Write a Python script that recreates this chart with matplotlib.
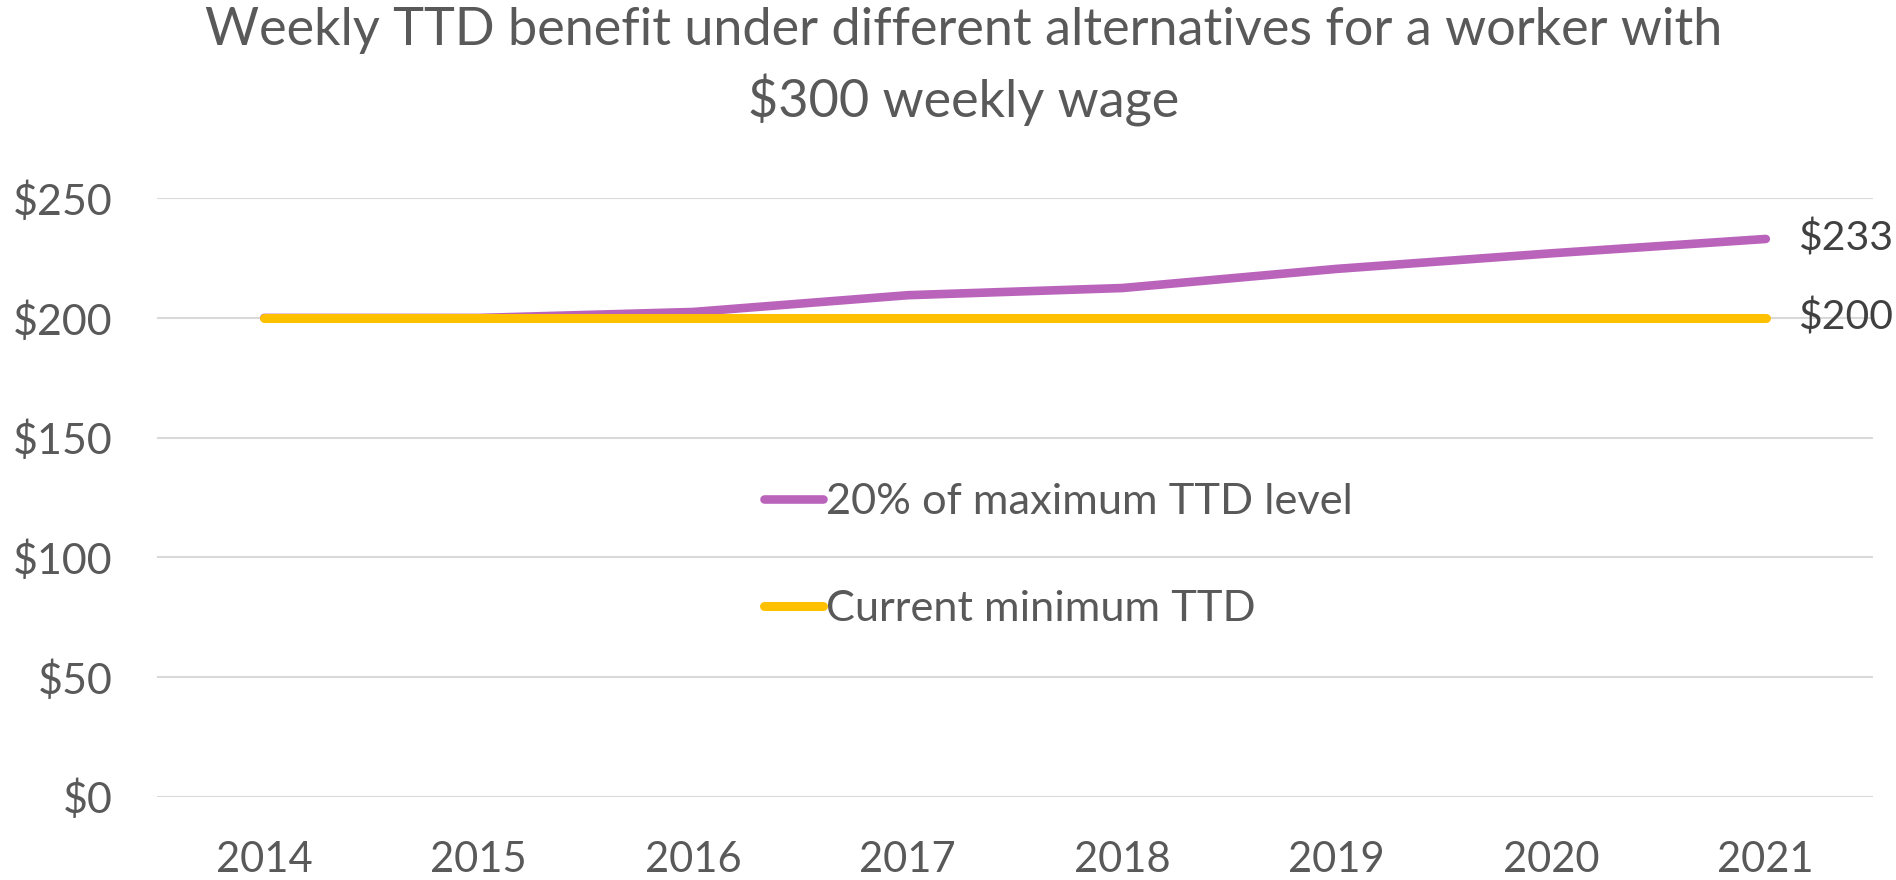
import matplotlib.pyplot as plt

years = ["2014", "2015", "2016", "2017", "2018", "2019", "2020", "2021"]
pct_max_ttd = [200, 200, 202.5, 209.5, 212.5, 220.5, 227, 233]
current_min = [200, 200, 200, 200, 200, 200, 200, 200]
y_ticks = [0, 50, 100, 150, 200, 250]

plt.rcParams['font.family'] = ['Lato', 'DejaVu Sans']
grey = "#595959"

fig = plt.figure(figsize=(18.96, 8.8), dpi=100)
ax = fig.add_axes([0.0828, 0.0947, 0.9051, 0.680])

x = range(len(years))
ax.plot(x, pct_max_ttd, color="#B963BB", lw=6.2, solid_capstyle="round",
        label="20% of maximum TTD level", zorder=3)
ax.plot(x, current_min, color="#FFC000", lw=6.5, solid_capstyle="round",
        label="Current minimum TTD", zorder=4)

# end-of-line value labels
for series in (pct_max_ttd, current_min):
    ax.annotate(f"${series[-1]:.0f}", (len(years) - 1, series[-1]),
                xytext=(23, 0), textcoords="offset points",
                va="center", ha="left", fontsize=29.5, color="#404040",
                annotation_clip=False)

ax.set_xlim(-0.5, len(years) - 0.5)
ax.set_ylim(0, 250)
ax.set_xticks(list(x))
ax.set_xticklabels(years)
ax.set_yticks(y_ticks)
ax.set_yticklabels([f"${v}" for v in y_ticks])
ax.tick_params(axis="both", length=0, labelsize=30, labelcolor=grey)
ax.tick_params(axis="y", labelsize=31)
ax.tick_params(axis="x", pad=32)
ax.tick_params(axis="y", pad=32)
ax.grid(axis="y", color="#D9D9D9", lw=1.5)
ax.set_axisbelow(True)
for s in ax.spines.values():
    s.set_visible(False)

leg = fig.legend(loc="upper left", bbox_to_anchor=(0.403, 0.451), frameon=False,
                 fontsize=31.2, handlelength=1.35, handletextpad=0.08,
                 labelspacing=1.6, borderpad=0, borderaxespad=0)
for t in leg.get_texts():
    t.set_color(grey)

fig.text(0.508, 0.992, "Weekly TTD benefit under different alternatives for a worker with\n$300 weekly wage",
         ha="center", va="top", fontsize=37.6, color=grey, linespacing=1.47)

plt.savefig("out.png", dpi=100)
